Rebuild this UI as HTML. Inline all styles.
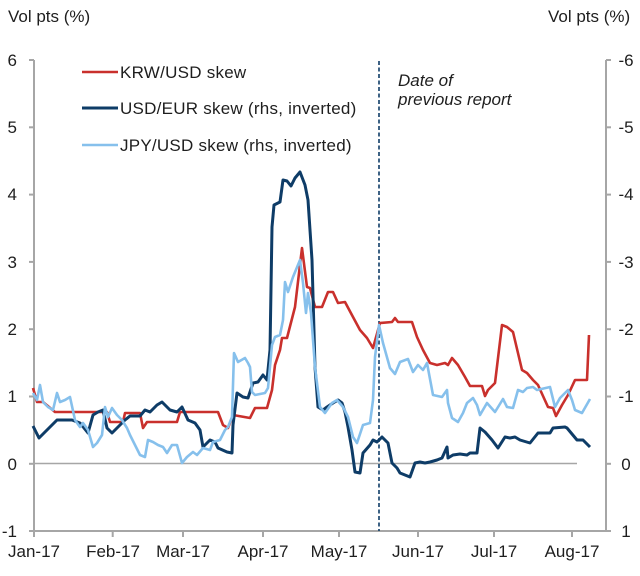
<!DOCTYPE html>
<html><head><meta charset="utf-8"><style>
html,body{margin:0;padding:0;background:#fff;}
svg{display:block;}
text{font-family:"Liberation Sans",Arial,sans-serif;font-size:17px;fill:#1e1e1e;}
.lg{letter-spacing:0.25px;}
</style></head><body>
<svg width="640" height="576" viewBox="0 0 640 576" xmlns="http://www.w3.org/2000/svg">
<rect width="640" height="576" fill="#fff"/>
<!-- axis titles -->
<text x="8" y="22">Vol pts (%)</text>
<text x="548" y="22">Vol pts (%)</text>
<!-- zero line -->
<line x1="34" y1="463.5" x2="577" y2="463.5" stroke="#a6a6a6" stroke-width="1.5"/>
<!-- axes -->
<g stroke="#a6a6a6" stroke-width="2" fill="none">
<line x1="34" y1="60" x2="34" y2="532"/>
<line x1="606" y1="60" x2="606" y2="532"/>
<line x1="33" y1="531" x2="607" y2="531"/>
<line x1="29" y1="60" x2="34" y2="60"/>
<line x1="29" y1="127.3" x2="34" y2="127.3"/>
<line x1="29" y1="194.6" x2="34" y2="194.6"/>
<line x1="29" y1="261.9" x2="34" y2="261.9"/>
<line x1="29" y1="329.2" x2="34" y2="329.2"/>
<line x1="29" y1="396.5" x2="34" y2="396.5"/>
<line x1="29" y1="463.8" x2="34" y2="463.8"/>
<line x1="29" y1="531" x2="34" y2="531"/>
<line x1="606" y1="60" x2="611" y2="60"/>
<line x1="606" y1="127.3" x2="611" y2="127.3"/>
<line x1="606" y1="194.6" x2="611" y2="194.6"/>
<line x1="606" y1="261.9" x2="611" y2="261.9"/>
<line x1="606" y1="329.2" x2="611" y2="329.2"/>
<line x1="606" y1="396.5" x2="611" y2="396.5"/>
<line x1="606" y1="463.8" x2="611" y2="463.8"/>
<line x1="606" y1="531" x2="611" y2="531"/>
<line x1="34" y1="531" x2="34" y2="537"/>
<line x1="112.7" y1="531" x2="112.7" y2="537"/>
<line x1="183" y1="531" x2="183" y2="537"/>
<line x1="263" y1="531" x2="263" y2="537"/>
<line x1="339" y1="531" x2="339" y2="537"/>
<line x1="418" y1="531" x2="418" y2="537"/>
<line x1="494" y1="531" x2="494" y2="537"/>
<line x1="572" y1="531" x2="572" y2="537"/>
</g>
<!-- left labels -->
<g text-anchor="end">
<text x="17" y="66">6</text>
<text x="17" y="133">5</text>
<text x="17" y="200">4</text>
<text x="17" y="268">3</text>
<text x="17" y="335">2</text>
<text x="17" y="402">1</text>
<text x="17" y="470">0</text>
<text x="17" y="537">-1</text>
</g>
<!-- right labels -->
<g text-anchor="middle">
<text x="626" y="66">-6</text>
<text x="626" y="133">-5</text>
<text x="626" y="200">-4</text>
<text x="626" y="268">-3</text>
<text x="626" y="335">-2</text>
<text x="626" y="402">-1</text>
<text x="626" y="470">0</text>
<text x="626" y="537">1</text>
</g>
<!-- x labels -->
<g text-anchor="middle">
<text x="34" y="557">Jan-17</text>
<text x="113" y="557">Feb-17</text>
<text x="183" y="557">Mar-17</text>
<text x="263" y="557">Apr-17</text>
<text x="339" y="557">May-17</text>
<text x="418" y="557">Jun-17</text>
<text x="494" y="557">Jul-17</text>
<text x="572" y="557">Aug-17</text>
</g>
<!-- dashed report line -->
<line x1="379" y1="61" x2="379" y2="531" stroke="#0e3c67" stroke-width="1.6" stroke-dasharray="4,2.5"/>
<text x="398" y="86" font-style="italic">Date of</text>
<text x="398" y="105" font-style="italic">previous report</text>
<!-- legend -->
<line x1="82" y1="72" x2="118" y2="72" stroke="#c9302c" stroke-width="2.5"/>
<line x1="82" y1="108" x2="118" y2="108" stroke="#0e3c67" stroke-width="3"/>
<line x1="82" y1="145" x2="118" y2="145" stroke="#86c0ec" stroke-width="2.5"/>
<text class="lg" x="120" y="78">KRW/USD skew</text>
<text class="lg" x="120" y="114">USD/EUR skew (rhs, inverted)</text>
<text class="lg" x="120" y="151">JPY/USD skew (rhs, inverted)</text>
<!-- series -->
<polyline fill="none" stroke="#c9302c" stroke-width="2.6" stroke-linejoin="round" points="33,388 37,402 43,402 55,412 107,412 110,422 123,422 125,413 140,413 143,428 147,422 177,422 180,412 218,412 223,425 228,428 233,415 250,418 255,408 267,408 272,390 275,365 280,350 282,338 287,338 295,307 302,248 307,287 310,288 315,307 322,307 328,292 333,292 338,303 345,302 353,317 360,330 367,338 373,348 380,323 392,322 395,318 398,322 412,322 417,337 423,350 430,363 437,365 445,363 448,365 452,358 458,365 465,377 470,386 482,386 485,396 488,390 495,383 502,325 507,327 513,332 522,370 527,373 533,380 538,385 548,407 553,408 556,416 562,405 568,395 575,380 587,380 589,335"/>
<polyline fill="none" stroke="#0e3c67" stroke-width="3" stroke-linejoin="round" points="33,426 39,438 45,432 52,425 57,420 72,420 80,423 88,433 93,415 98,412 103,410 107,428 112,433 118,427 125,420 130,416 140,416 145,410 150,412 157,405 162,402 170,410 177,412 182,407 188,420 195,423 200,430 203,447 210,440 215,442 218,448 227,452 232,453 233,425 237,393 243,397 248,398 253,383 258,382 263,375 267,380 270,350 272,227 274,205 280,202 283,180 287,181 291,186 295,178 300,172 305,185 308,200 312,260 315,367 318,407 323,410 327,407 333,403 338,400 342,403 345,412 348,427 352,450 355,472 360,473 363,453 370,445 373,440 377,442 382,437 388,443 392,463 397,468 400,473 405,475 410,477 415,463 420,462 425,463 430,462 437,460 442,458 447,447 448,458 453,455 460,454 467,455 470,453 477,453 480,428 485,432 492,440 498,448 505,437 510,438 515,437 520,440 530,443 538,433 550,433 553,428 565,427 567,428 577,440 583,440 590,447"/>
<polyline fill="none" stroke="#86c0ec" stroke-width="2.6" stroke-linejoin="round" points="33,393 37,400 40,385 43,402 48,407 53,410 57,393 60,402 65,400 70,397 75,420 80,427 83,423 88,430 93,447 97,443 102,435 105,407 108,417 112,408 117,415 122,420 127,428 130,435 135,445 140,455 145,457 148,440 153,442 158,445 163,447 167,453 172,445 177,445 182,463 187,457 193,452 197,455 203,448 210,450 213,442 220,440 225,430 228,427 232,417 234,353 238,362 245,358 248,363 250,367 252,392 255,395 265,393 268,388 272,345 275,337 280,335 283,320 285,282 288,292 293,277 300,260 303,283 306,313 308,293 311,313 315,367 320,407 325,413 332,403 337,400 343,407 348,417 353,437 357,443 363,425 370,423 373,400 375,357 379,325 383,343 390,368 395,374 400,362 408,359 413,372 418,365 423,370 427,363 433,395 442,397 447,390 448,403 452,418 458,422 463,413 467,403 473,398 477,405 480,415 487,403 495,412 503,399 507,407 513,408 518,390 523,392 527,388 533,387 537,390 550,387 555,407 560,398 568,390 572,400 575,410 582,413 590,399"/>
</svg>
</body></html>
